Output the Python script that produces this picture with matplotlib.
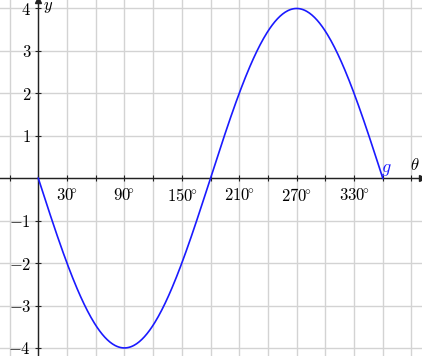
import numpy as np
import matplotlib.pyplot as plt

plt.rcParams['mathtext.fontset'] = 'cm'
plt.rcParams['font.family'] = 'serif'
plt.rcParams['font.serif'] = ['cmr10', 'DejaVu Serif']
plt.rcParams['axes.unicode_minus'] = False

# g(theta) = AMPLITUDE * sin(theta), theta in degrees
AMPLITUDE = -4
THETA_START = 0
THETA_END = 360

x_ticks = [30, 90, 150, 210, 270, 330]
x_grid = list(range(-30, 391, 30))
y_ticks = [-4, -3, -2, -1, 1, 2, 3, 4]

fig = plt.figure(figsize=(4.22, 3.56), dpi=100)
ax = fig.add_axes([0, 0, 1, 1])

theta = np.linspace(THETA_START, THETA_END, 400)
g = AMPLITUDE * np.sin(np.radians(theta))

# grid
for gx in x_grid:
    ax.axvline(gx, color='#d3d3d3', lw=1, zorder=0)
for gy in range(-4, 5):
    ax.axhline(gy, color='#d3d3d3', lw=1, zorder=0)

ax.plot(theta, g, color='#1a1aff', lw=1.2, zorder=3)

ax.set_xlim(-40, 401)
ax.set_ylim(-4.19, 4.2)

for s in ['top', 'right']:
    ax.spines[s].set_visible(False)
ax.spines['left'].set_position(('data', 0))
ax.spines['bottom'].set_position(('data', 0))
for s in ['left', 'bottom']:
    ax.spines[s].set_color('#222222')
    ax.spines[s].set_linewidth(1.0)

# arrow heads
ax.plot(1, 0, '>', color='#222222', ms=4, transform=ax.get_yaxis_transform(), clip_on=False)
ax.plot(0, 1, '^', color='#222222', ms=4, transform=ax.get_xaxis_transform(), clip_on=False)

ax.set_xticks(x_grid)
ax.set_xticklabels([r'$%d\!^{\circ}$' % t if t in x_ticks else '' for t in x_grid])
ax.set_yticks(y_ticks)
ax.set_yticklabels([r'$%d$' % t for t in y_ticks])
ax.tick_params(axis='both', direction='inout', length=4, width=0.8, color='#222222',
               labelsize=12)
ax.tick_params(axis='x', pad=4)
ax.tick_params(axis='y', pad=3)

ax.text(10, 4.02, r'$y$', fontsize=12, ha='center', va='center')
ax.text(393, 0.3, r'$\theta$', fontsize=12, ha='center', va='center')
ax.text(364, 0.2, r'$g$', fontsize=13, color='#1a1aff', ha='center', va='center')

fig.savefig('out.png', dpi=100)
